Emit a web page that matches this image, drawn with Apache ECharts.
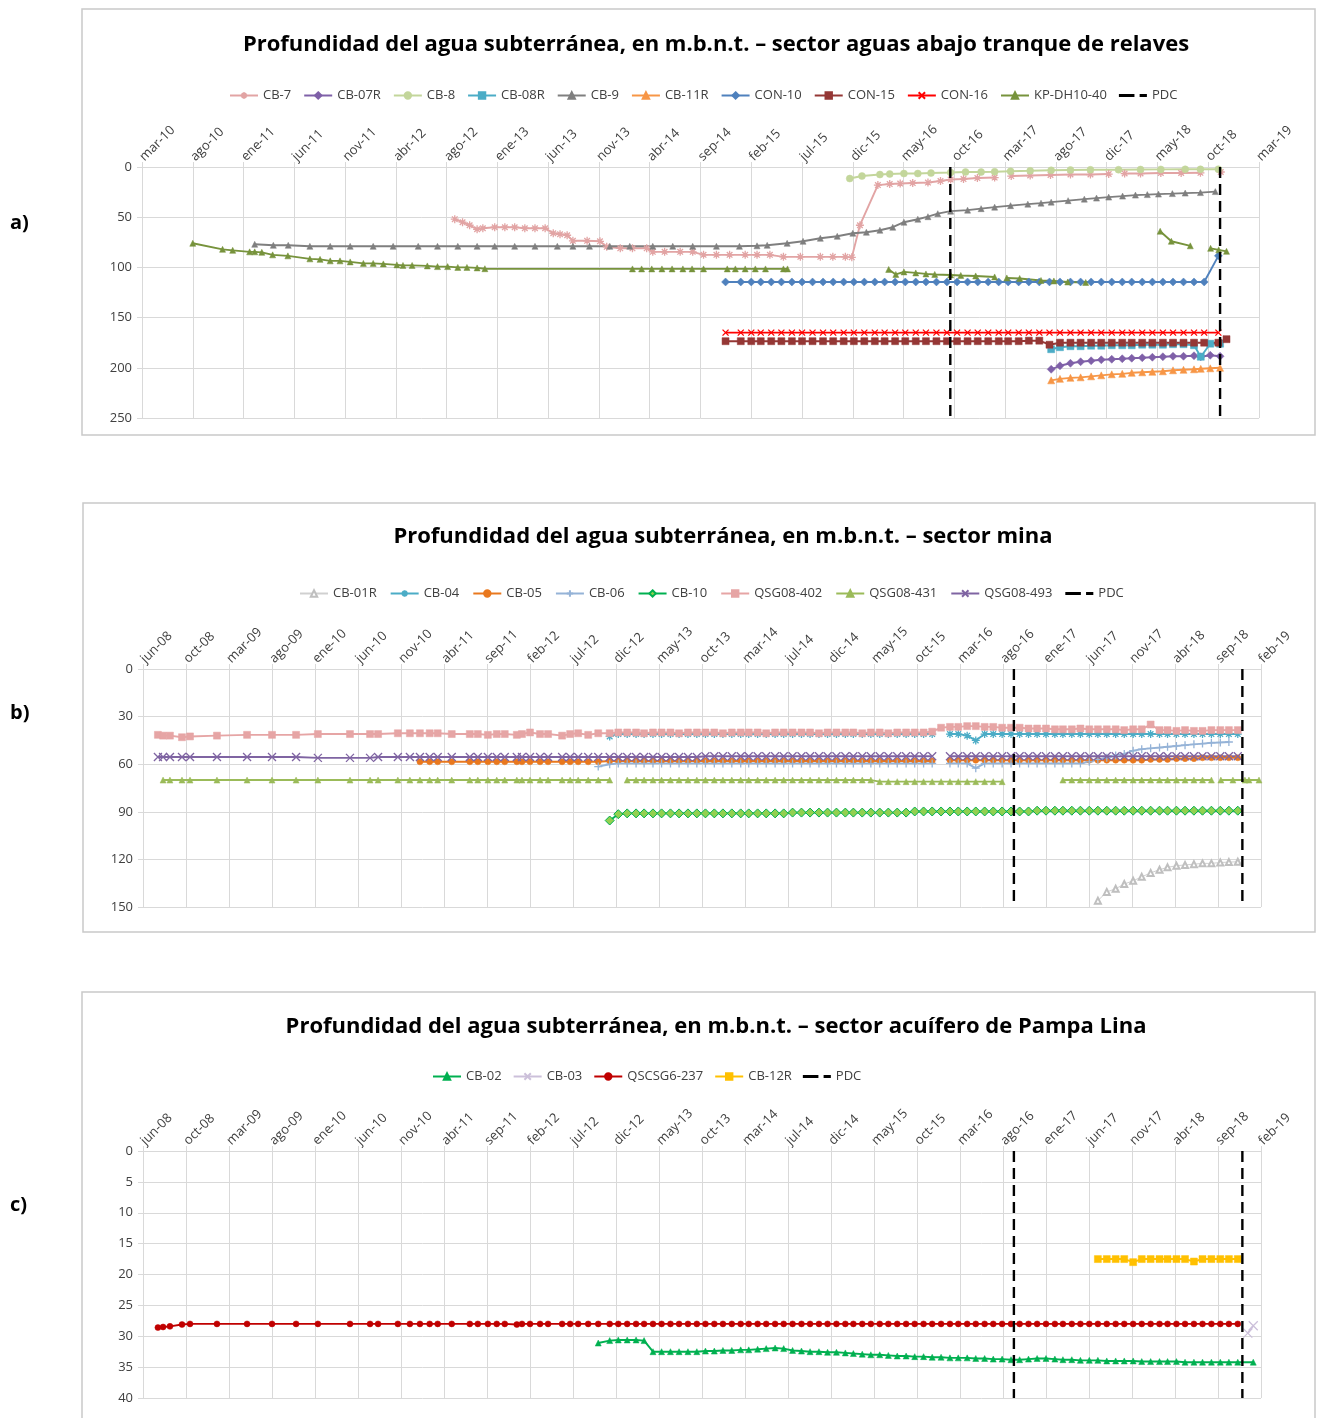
<!DOCTYPE html>
<html>
<head>
<meta charset="utf-8">
<script src="https://cdn.jsdelivr.net/npm/echarts@6/dist/echarts.min.js"></script>
<style>
  html, body { margin: 0; padding: 0; background: #fff; }
  #chart { width: 1319px; height: 1418px; }
</style>
</head>
<body>
<div id="chart"></div>
<script>
// ---------- data ----------
// first tick of each date axis; ticks every 150 days
var originA = Date.UTC(2010, 2, 13, 12);
var originB = Date.UTC(2008, 5, 1, 12);
var meses = ['ene', 'feb', 'mar', 'abr', 'may', 'jun', 'jul', 'ago', 'sep', 'oct', 'nov', 'dic'];
var pdcDates = ['2016-09-25', '2018-12-01'];

// panel a) sector aguas abajo tranque de relaves
var cb7 = [['2012-09-22',52],['2012-10-15',55],['2012-11-05',58],['2012-11-27',62],['2012-12-14',61],['2013-01-18',60],['2013-02-17',60],['2013-03-18',60],['2013-04-17',61],['2013-05-17',61],['2013-06-16',61],['2013-07-10',66],['2013-07-30',67],['2013-08-20',68],['2013-09-06',73.5],['2013-10-18',73.5],['2013-11-25',74],['2013-12-15',79.5],['2014-01-24',81],['2014-03-01',81],['2014-04-12',81],['2014-04-30',84.5],['2014-06-04',84.5],['2014-07-20',84.5],['2014-08-26',84.5],['2014-09-27',87.5],['2014-11-04',87.5],['2014-12-13',87.5],['2015-01-28',87.5],['2015-03-04',87.5],['2015-04-11',87.5],['2015-05-21',89.5],['2015-07-10',89.5],['2015-09-07',89.5],['2015-10-14',89.5],['2015-11-20',89.5],['2015-12-09',90],['2016-01-02',58],['2016-02-24',18],['2016-03-30',17],['2016-04-30',16.5],['2016-06-06',16],['2016-07-21',15.5],['2016-08-27',14],['2016-09-26',12.5],['2016-11-03',12],['2016-12-14',11],['2017-02-03',10.5],['2017-02-20',null],['2017-03-24',9],['2017-05-19',8.5],['2017-07-18',8],['2017-09-15',7.5],['2017-11-13',7.5],['2018-01-06',7],['2018-01-20',null],['2018-02-22',6.5],['2018-04-10',6.5],['2018-06-09',6],['2018-08-08',6],['2018-10-04',5.8],['2018-11-01',null],['2018-12-03',5]];
var cb8 = [['2015-12-03',11.5],['2016-01-08',9],['2016-03-01',7.5],['2016-03-30',7],['2016-05-11',6.5],['2016-06-21',6.5],['2016-07-30',6],['2016-09-26',5.5],['2016-11-09',5],['2016-12-25',5],['2017-02-03',4.7],['2017-03-22',4.2],['2017-05-19',3.8],['2017-07-20',3.3],['2017-09-15',3],['2017-11-13',2.8],['2018-02-04',2.7],['2018-04-10',2.5],['2018-06-09',2.4],['2018-08-20',2.3],['2018-10-04',2.3],['2018-11-26',2.2]];
var cb9 = [['2011-02-09',77],['2011-04-05',78],['2011-05-19',78],['2011-07-22',79],['2011-09-20',79],['2011-11-18',79],['2012-01-25',79],['2012-03-24',79],['2012-06-06',79],['2012-08-02',79],['2012-10-01',79],['2012-11-27',79],['2013-01-18',79],['2013-03-18',79],['2013-05-17',79],['2013-07-22',79],['2013-09-06',79],['2013-10-25',79],['2013-12-24',79],['2014-02-21',79],['2014-04-30',79],['2014-06-28',79],['2014-08-26',79],['2014-11-04',79],['2015-01-11',79],['2015-03-04',78.5],['2015-04-03',78],['2015-06-01',76],['2015-07-18',74],['2015-09-07',71],['2015-10-27',69],['2015-12-12',66],['2016-01-21',65],['2016-03-01',63],['2016-04-08',60],['2016-05-11',55],['2016-06-21',52],['2016-07-21',49.5],['2016-08-19',46.5],['2016-09-26',44],['2016-11-15',43],['2016-12-25',41.5],['2017-02-03',40],['2017-03-22',38.5],['2017-05-12',37],['2017-06-20',36],['2017-07-20',35],['2017-09-08',33.5],['2017-10-26',32],['2017-12-01',31],['2018-01-06',30],['2018-02-16',29],['2018-03-26',28],['2018-04-30',27.5],['2018-06-02',27],['2018-07-13',26.5],['2018-08-20',26],['2018-10-04',25.5],['2018-11-17',24.5]];
var kpdh = [['2010-08-10',76],['2010-11-06',82],['2010-12-06',83],['2011-01-25',84.5],['2011-02-09',84.5],['2011-03-02',85],['2011-04-03',87.5],['2011-05-18',88.5],['2011-07-22',91.5],['2011-08-21',92],['2011-09-20',93.5],['2011-10-19',93.5],['2011-11-18',94.5],['2011-12-27',96],['2012-01-25',96],['2012-02-24',96.5],['2012-04-04',97.5],['2012-04-22',98],['2012-05-19',98],['2012-07-03',98.5],['2012-08-02',99.2],['2012-09-01',99.2],['2012-10-01',100],['2012-10-28',100],['2012-11-27',100.5],['2012-12-20',101.3],['2014-03-01',101.5],['2014-03-28',101.5],['2014-04-27',101.5],['2014-05-27',101.5],['2014-06-26',101.5],['2014-07-28',101.5],['2014-08-24',101.5],['2014-09-27',101.5],['2014-12-06',101.5],['2014-12-30',101.5],['2015-01-28',101.5],['2015-02-27',101.5],['2015-03-29',101.5],['2015-05-21',101.5],['2015-06-02',101.5],['2015-08-01',null],['2016-03-27',102],['2016-04-17',107],['2016-05-11',104.5],['2016-06-15',105.5],['2016-07-15',106.5],['2016-08-10',107],['2016-09-26',107.5],['2016-10-26',108],['2016-12-09',108.5],['2017-02-03',109.5],['2017-02-20',null],['2017-03-11',110.5],['2017-04-18',111],['2017-06-20',113],['2017-07-28',113.5],['2017-09-07',114.5],['2017-10-30',115],['2018-01-01',null],['2018-06-07',64],['2018-07-10',74],['2018-09-04',78.5],['2018-10-01',null],['2018-11-03',81],['2018-11-27',82.5],['2018-12-20',84]];

var conDates = ['2014-12-01','2015-01','2015-02','2015-03','2015-04','2015-05','2015-06','2015-07','2015-08','2015-09','2015-10','2015-11','2015-12','2016-01','2016-02','2016-03','2016-04','2016-05','2016-06','2016-07','2016-08','2016-09','2016-10','2016-11','2016-12','2017-01','2017-02','2017-03','2017-04','2017-05','2017-06','2017-07','2017-08','2017-09','2017-10','2017-11','2017-12','2018-01','2018-02','2018-03','2018-04','2018-05','2018-06','2018-07','2018-08','2018-09','2018-10','2018-11-26','2018-12-20'];
var con10 = [114.5,114.5,114.5,114.5,114.5,114.5,114.5,114.5,114.5,114.5,114.5,114.5,114.5,114.5,114.5,114.5,114.5,114.5,114.5,114.5,114.5,114.5,114.5,114.5,114.5,114.5,114.5,114.5,114.5,114.5,114.5,114.5,114.5,114.5,114.5,114.5,114.5,114.5,114.5,114.5,114.5,114.5,114.5,114.5,114.5,114.5,114.5,88.5,null];
var con15 = [173.5,173.5,173.5,173.5,173.5,173.5,173.5,173.5,173.5,173.5,173.5,173.5,173.5,173.5,173.5,173.5,173.5,173.5,173.5,173.5,173.5,173.5,173.5,173.5,173.5,173.5,173.5,173.5,173.5,173,173,177,175,175,175,175,175,175,175,175,175,175,175,175,175,175,175,175,171.5];
var con16 = [165,165,165,165,165,165,165,165,165,165,165,165,165,165,165,165,165,165,165,165,165,165,165,165,165,165,165,165,165,165,165,165,165,165,165,165,165,165,165,165,165,165,165,165,165,165,165,165,null];

var newDates = ['2017-07-20','2017-08','2017-09','2017-10','2017-11','2017-12','2018-01','2018-02','2018-03','2018-04','2018-05','2018-06','2018-07','2018-08','2018-09','2018-10-05','2018-11-02','2018-12-01'];
var cb07r = [201.5,198,195.5,194,193,192,191.5,191,190.5,190,189.5,189,188.5,188.5,188,189,187.5,188.5];
var cb08r = [181.5,179.5,178.5,178.5,178,178,177.5,177.5,177.5,177,177,177,176.5,176.5,177.5,189,176,176];
var cb11r = [212.5,211,210,209.5,208.5,207.5,206.5,206,205,204.5,204,203.5,202.5,202,201.5,201,200.5,200];

// panels b) and c): one field campaign calendar
var campDates = ['2008-07-23','2008-08-10','2008-09-03','2008-10-15','2008-11-12','2009-02-14','2009-05-30','2009-08-25','2009-11-17','2010-02-01','2010-05-24','2010-08-02','2010-08-30','2010-11-07','2010-12-19','2011-01-23','2011-02-26','2011-03-26','2011-05-14','2011-07-16','2011-08-13','2011-09-17','2011-10-18','2011-11-15','2011-12-27','2012-01-14','2012-02-11','2012-03-17','2012-04-14','2012-06-02','2012-06-30','2012-07-28','2012-09-01','2012-10-06',
  '2012-11','2012-12','2013-01','2013-02','2013-03','2013-04','2013-05','2013-06','2013-07','2013-08','2013-09','2013-10','2013-11','2013-12',
  '2014-01','2014-02','2014-03','2014-04','2014-05','2014-06','2014-07','2014-08','2014-09','2014-10','2014-11','2014-12',
  '2015-01','2015-02','2015-03','2015-04','2015-05','2015-06','2015-07','2015-08','2015-09','2015-10','2015-11','2015-12',
  '2016-01','2016-02','2016-03','2016-04','2016-05','2016-06','2016-07','2016-08','2016-09','2016-10','2016-11','2016-12',
  '2017-01','2017-02','2017-03','2017-04','2017-05','2017-06','2017-07','2017-08','2017-09','2017-10','2017-11','2017-12',
  '2018-01','2018-02','2018-03','2018-04','2018-05','2018-06','2018-07','2018-08','2018-09','2018-10','2018-11'];
var _ = null;
// each: 34 early campaign values, then monthly 2012-11 .. 2018-11
var qsg402 = [41.5,42,42,43,42.5,42,41.5,41.5,41.5,41,41,41,41,40.5,40.5,40.5,40.5,40.5,41,41,41,41.5,41,41,41.5,41,40,41,41,42,41,40.5,41.5,40.5,
  40.5,40,40,40,40.5,40,40,40,40.5,40,40,40,40,40.5,40,40,40,40,40.5,40,40,40,40,40,40.5,40,40,40,40,40.5,40,40,40.5,40,40,40,40,39.5,
  37,36.5,36.5,36,36,36.5,36.5,37,37,37,37.5,37.5,37.5,38,38,38,37.5,38,38,38,38,38.5,38,38,35,38.5,38.5,39,38.5,39,39,38.5,38.5,38.5,38.5];
var qsg493 = [55.5,55.5,55.5,55.5,55.5,55.5,55.5,55.5,55.5,56,56,56,55.5,55.5,55.5,55.5,55.5,55.5,55.5,55.5,55.5,55.5,55.5,55.5,55.5,55.5,55.5,55.5,55.5,55.5,55.5,55.5,55.5,55.5,
  55.5,55.5,55.5,55.5,55.5,55.5,55.5,55.5,55.5,55.5,55.5,55,55,55,55,55,55,55,55,55,55,55,55,55,55,55,55,55,55,55,55,55,55,55,55,55,55,55,
  _,55,55,55,55,55,55,55,55,55,55,55,55,55,55,55,55,55,55,55,55,55,55,55,55,55,55,55,55,55,55,55,55,55,55];
var qsg431 = [_,70,70,70,70,70,70,70,70,70,70,70,70,70,70,70,70,70,70,70,70,70,70,70,70,70,70,70,70,70,70,70,70,70,
  70,_,70,70,70,70,70,70,70,70,70,70,70,70,70,70,70,70,70,70,70,70,70,70,70,70,70,70,70,70,70,71,71,71,71,71,71,71,
  71,71,71,71,71,71,71,71,_,_,_,_,_,_,70,70,70,70,70,70,70,70,70,70,70,70,70,70,70,70,70,70,_,_,_];
var qsg431Tail = [['2018-09-17',70],['2018-10-29',70],['2018-12-10',70],['2018-12-24',70],['2019-01-28',70]];
var cb05 = [_,_,_,_,_,_,_,_,_,_,_,_,_,_,_,58.5,58.5,58.5,58.5,58.5,58.5,58.5,58.5,58.5,58.5,58.5,58.5,58.5,58.5,58.5,58.5,58.5,58.5,58.5,
  58,58,58,58,58,58,58,58,58,58,58,58,58,58,58,58,58,58,58,58,58,58,58,58,58,58,58,58,58,58,58,58,58,58,58,58,58,58,
  _,57.5,57.5,57.5,57.5,57.5,57.5,57.5,57.5,57.5,57.5,57.5,57.5,57.5,57.5,57.5,57.5,57.5,57.5,57.5,57.5,57.5,57.5,57.5,57,57,57,56.5,56.5,56.5,56,56,56,56,56];
var cb06 = [_,_,_,_,_,_,_,_,_,_,_,_,_,_,_,_,_,_,_,_,_,_,_,_,_,_,_,_,_,_,_,_,_,61.5,
  60,59.5,59.5,59.5,59.5,59.5,59.5,59.5,59.5,59.5,59.5,59.5,59.5,59.5,59.5,59.5,59.5,59.5,59.5,59.5,59.5,59.5,59.5,59.5,59.5,59.5,59.5,59.5,59.5,59.5,59.5,59.5,59.5,59.5,59.5,59.5,59.5,59.5,
  _,59.5,59.5,59.5,62.5,59.5,59.5,59.5,59.5,59.5,59.5,59.5,59.5,59.5,59.5,59.5,59.5,58.5,57,56,54.5,53.5,51.5,50.5,50,49.5,49,48.5,48,47.5,47,46.5,46.3,46];
var cb04 = [_,_,_,_,_,_,_,_,_,_,_,_,_,_,_,_,_,_,_,_,_,_,_,_,_,_,_,_,_,_,_,_,_,_,
  42.5,41,41,41,41,41,41,41,41,41,41,41,41,41,41,41,41,41,41,41,41,41,41,41,41,41,41,41,41,41,41,41,41,41,41,41,41,41,
  _,41,41,42,45,41,41,41,41,41,41,41,41,41,41,41,41,41,41,41,41,41,41,41,41,41,41,41,41,41,41,41,41,41,41];
var cb10 = [_,_,_,_,_,_,_,_,_,_,_,_,_,_,_,_,_,_,_,_,_,_,_,_,_,_,_,_,_,_,_,_,_,_,
  95.5,91.5,91,91,91,91,91,91,91,91,91,91,91,91,91,91,91,91,91,91,91,90.5,90.5,90.5,90.5,90.5,90.5,90.5,90.5,90.5,90.5,90.5,90.5,90.5,90.5,89.8,89.8,89.8,
  89.8,89.8,89.8,89.8,89.8,89.8,89.8,89.8,89.8,89.8,89.8,89.3,89.3,89.3,89.3,89.3,89.3,89.3,89.3,89.3,89.3,89.3,89.3,89.3,89.3,89.3,89.3,89.3,89.3,89.3,89.3,89.3,89.3,89.3,89.3];
var cb01r = [_,_,_,_,_,_,_,_,_,_,_,_,_,_,_,_,_,_,_,_,_,_,_,_,_,_,_,_,_,_,_,_,_,_,
  _,_,_,_,_,_,_,_,_,_,_,_,_,_,_,_,_,_,_,_,_,_,_,_,_,_,_,_,_,_,_,_,_,_,_,_,_,_,
  _,_,_,_,_,_,_,_,_,_,_,_,_,_,_,_,_,_,146,140.5,138.5,135.5,133.5,131,128.5,126.5,125,124,123.5,123,122.5,122.5,122,121.7,121.5];

var qscsg = [28.6,28.5,28.4,28.1,28,28,28,28,28,28,28,28,28,28,28,28,28,28,28,28,28,28,28,28,28.1,28,28,28,28,28,28,28,28,28,
  28,28,28,28,28,28,28,28,28,28,28,28,28,28,28,28,28,28,28,28,28,28,28,28,28,28,28,28,28,28,28,28,28,28,28,28,28,28,
  28,28,28,28,28,28,28,28,28,28,28,28,28,28,28,28,28,28,28,28,28,28,28,28,28,28,28,28,28,28,28,28,28,28,28];
var cb02 = [_,_,_,_,_,_,_,_,_,_,_,_,_,_,_,_,_,_,_,_,_,_,_,_,_,_,_,_,_,_,_,_,_,31.1,
  30.7,30.6,30.6,30.6,30.7,32.5,32.5,32.5,32.5,32.5,32.5,32.4,32.4,32.3,32.3,32.2,32.2,32.1,32.0,31.9,32.0,32.3,32.4,32.5,32.5,32.6,32.6,32.7,32.8,32.9,33.0,33.0,33.1,33.2,
  33.2,33.3,33.3,33.4,33.4,33.5,33.5,33.5,33.6,33.6,33.7,33.7,33.8,33.8,33.7,33.6,33.6,33.7,33.8,33.8,33.9,33.9,33.9,34.0,34.0,34.0,34.0,34.1,34.1,34.1,34.1,34.1,34.2,34.2,34.2,34.2,34.2,34.2,34.2];
var cb02Tail = [['2019-01-08',34.2]];
var cb12r = [_,_,_,_,_,_,_,_,_,_,_,_,_,_,_,_,_,_,_,_,_,_,_,_,_,_,_,_,_,_,_,_,_,_,
  _,_,_,_,_,_,_,_,_,_,_,_,_,_,_,_,_,_,_,_,_,_,_,_,_,_,_,_,_,_,_,_,_,_,_,_,_,_,
  _,_,_,_,_,_,_,_,_,_,_,_,_,_,_,_,_,_,17.5,17.5,17.5,17.5,18,17.5,17.5,17.5,17.5,17.5,17.5,17.9,17.5,17.5,17.5,17.5,17.5];
var cb03 = [['2018-12-20',29.5],['2019-01-08',28.3]];

// ---------- helpers ----------
function toX(s, origin) {
  var p = s.split('-');
  var d = p[2] ? +p[2] : 15;
  return (Date.UTC(+p[0], +p[1] - 1, d, 12) - origin) / 86400000;
}
function pairs(list, origin) {
  return list.map(function (r) { return [toX(r[0], origin), r[1] == null ? '-' : r[1]]; });
}
function zipped(dates, vals, origin) {
  return dates.map(function (d, i) { return [toX(d, origin), vals[i] == null ? '-' : vals[i]]; });
}
function pdcData(origin, ymax) {
  return [[toX(pdcDates[0], origin), 0], [toX(pdcDates[0], origin), ymax], [toX(pdcDates[0], origin), '-'],
          [toX(pdcDates[1], origin), 0], [toX(pdcDates[1], origin), ymax]];
}
function fmt(origin) {
  return function (v) {
    var d = new Date(origin + v * 86400000);
    return meses[d.getUTCMonth()] + '-' + String(d.getUTCFullYear()).slice(2);
  };
}

var STAR = 'path://M5,0L5,10M0,5L10,5M1.5,1.5L8.5,8.5M8.5,1.5L1.5,8.5';
var CROSS = 'path://M0,0L10,10M10,0L0,10';
var PLUS = 'path://M5,0L5,10M0,5L10,5';
var DASHICON = 'path://M0,0h15v3h-15zM20,0h7v3h-7z';
var FONT = 'Open Sans';

function ser(name, idx, data, color, symbol, size, extra) {
  var s = {
    name: name, type: 'line', xAxisIndex: idx, yAxisIndex: idx, data: data,
    symbol: symbol, symbolSize: size, showSymbol: true, connectNulls: false,
    lineStyle: { color: color, width: 1.9 },
    itemStyle: { color: color, borderColor: color, borderWidth: symbol.indexOf('path') === 0 ? 1.3 : 0.5 },
    emphasis: { disabled: true }, animation: false, z: 3
  };
  if (extra) Object.assign(s, extra);
  return s;
}
function pdc(idx, origin, ymax) {
  return {
    name: 'PDC', type: 'line', xAxisIndex: idx, yAxisIndex: idx, data: pdcData(origin, ymax),
    symbol: 'none', connectNulls: false, z: 4, animation: false,
    lineStyle: { color: '#000', width: 2.4, type: [11, 6] }, itemStyle: { color: '#000' }
  };
}

var grids = [
  { left: 142, top: 167, width: 1117, height: 251 },
  { left: 143, top: 669, width: 1118, height: 238 },
  { left: 143, top: 1151, width: 1118, height: 247 }
];
grids.forEach(function (g) { g.containLabel = false; g.outerBoundsMode = 'none'; });

function xAx(idx, origin, n) {
  return {
    type: 'value', gridIndex: idx, position: 'top', min: 0, max: 150 * n, interval: 150,
    axisLine: { show: true, lineStyle: { color: '#d9d9d9' } },
    axisTick: { show: true, length: 5, lineStyle: { color: '#d9d9d9' } },
    splitLine: { show: true, lineStyle: { color: '#d9d9d9', width: 1 } },
    axisLabel: { rotate: 45, margin: 8, fontSize: 13, color: '#404040', fontFamily: FONT, formatter: fmt(origin), hideOverlap: false }
  };
}
function yAx(idx, max, step) {
  return {
    type: 'value', gridIndex: idx, inverse: true, min: 0, max: max, interval: step,
    axisLine: { show: true, lineStyle: { color: '#d9d9d9' } },
    axisTick: { show: true, length: 5, lineStyle: { color: '#d9d9d9' } },
    splitLine: { show: true, lineStyle: { color: '#d9d9d9', width: 1 } },
    axisLabel: { margin: 10, fontSize: 13, color: '#404040', fontFamily: FONT }
  };
}

var titleStyle = { fontSize: 22, fontWeight: 'bold', color: '#000', fontFamily: FONT };
var legendText = { fontSize: 13, color: '#404040', fontFamily: FONT };
var pdcLegend = { name: 'PDC', icon: DASHICON };

var option = {
  backgroundColor: '#fff',
  animation: false,
  title: [
    { text: 'Profundidad del agua subterránea, en m.b.n.t. – sector aguas abajo tranque de relaves', left: 711, top: 29, textAlign: 'center', textStyle: titleStyle },
    { text: 'Profundidad del agua subterránea, en m.b.n.t. – sector mina', left: 718, top: 521, textAlign: 'center', textStyle: titleStyle },
    { text: 'Profundidad del agua subterránea, en m.b.n.t. – sector acuífero de Pampa Lina', left: 711, top: 1011, textAlign: 'center', textStyle: titleStyle }
  ],
  legend: [
    { left: 224, top: 84, itemWidth: 28, itemHeight: 8, itemGap: 12, textStyle: legendText,
      data: ['CB-7', 'CB-07R', 'CB-8', 'CB-08R', 'CB-9', 'CB-11R', 'CON-10', 'CON-15', 'CON-16', 'KP-DH10-40', pdcLegend] },
    { left: 294, top: 582, itemWidth: 28, itemHeight: 8, itemGap: 13, textStyle: legendText,
      data: ['CB-01R', 'CB-04', 'CB-05', 'CB-06', 'CB-10', 'QSG08-402', 'QSG08-431', 'QSG08-493', pdcLegend] },
    { left: 427, top: 1065, itemWidth: 28, itemHeight: 8, itemGap: 11, textStyle: legendText,
      data: ['CB-02', 'CB-03', 'QSCSG6-237', 'CB-12R', pdcLegend] }
  ],
  grid: grids,
  xAxis: [xAx(0, originA, 22), xAx(1, originB, 26), xAx(2, originB, 26)],
  yAxis: [yAx(0, 250, 50), yAx(1, 150, 30), yAx(2, 40, 5)],
  graphic: [
    { type: 'rect', shape: { x: 82, y: 9, width: 1233, height: 426 }, style: { fill: 'none', stroke: '#c9c9c9', lineWidth: 1.5 }, silent: true },
    { type: 'rect', shape: { x: 83, y: 503, width: 1232, height: 429 }, style: { fill: 'none', stroke: '#c9c9c9', lineWidth: 1.5 }, silent: true },
    { type: 'rect', shape: { x: 82, y: 992, width: 1233, height: 440 }, style: { fill: 'none', stroke: '#c9c9c9', lineWidth: 1.5 }, silent: true },
    { type: 'text', left: 10, top: 213, style: { text: 'a)', font: 'bold 20px "Open Sans"', fill: '#000' } },
    { type: 'text', left: 10, top: 703, style: { text: 'b)', font: 'bold 20px "Open Sans"', fill: '#000' } },
    { type: 'text', left: 10, top: 1195, style: { text: 'c)', font: 'bold 20px "Open Sans"', fill: '#000' } }
  ],
  series: [
    // a)
    ser('CB-7', 0, pairs(cb7, originA), '#e2a4a4', STAR, 8),
    ser('CB-07R', 0, zipped(newDates, cb07r, originA), '#7f60a8', 'diamond', 8),
    ser('CB-8', 0, pairs(cb8, originA), '#c3d69b', 'circle', 7),
    ser('CB-08R', 0, zipped(newDates, cb08r, originA), '#4bacc6', 'rect', 7),
    ser('CB-9', 0, pairs(cb9, originA), '#7f7f7f', 'triangle', 6),
    ser('CB-11R', 0, zipped(newDates, cb11r, originA), '#f79646', 'triangle', 7),
    ser('CON-10', 0, zipped(conDates, con10, originA), '#4f81bd', 'diamond', 8),
    ser('CON-15', 0, zipped(conDates, con15, originA), '#953735', 'rect', 7),
    ser('CON-16', 0, zipped(conDates, con16, originA), '#ff0000', CROSS, 6),
    ser('KP-DH10-40', 0, pairs(kpdh, originA), '#77933c', 'triangle', 6),
    pdc(0, originA, 250),
    // b)
    ser('CB-01R', 1, zipped(campDates, cb01r, originB), '#bfbfbf', 'emptyTriangle', 6, { lineStyle: { color: '#d0d0d0', width: 1 } }),
    ser('CB-04', 1, zipped(campDates, cb04, originB), '#4bacc6', STAR, 8),
    ser('CB-05', 1, zipped(campDates, cb05, originB), '#e9781e', 'circle', 6),
    ser('CB-06', 1, zipped(campDates, cb06, originB), '#95b3d7', PLUS, 8),
    ser('CB-10', 1, zipped(campDates, cb10, originB), '#00b050', 'diamond', 9, { itemStyle: { color: '#92d050', borderColor: '#00b050', borderWidth: 1 } }),
    ser('QSG08-402', 1, zipped(campDates, qsg402, originB), '#e6a5a5', 'rect', 7),
    ser('QSG08-431', 1, zipped(campDates, qsg431, originB).concat([[toX('2018-09-01', originB), '-']], pairs(qsg431Tail, originB)), '#9bbb59', 'triangle', 6),
    ser('QSG08-493', 1, zipped(campDates, qsg493, originB), '#7f64a2', CROSS, 8),
    pdc(1, originB, 150),
    // c)
    ser('CB-02', 2, zipped(campDates, cb02, originB).concat(pairs(cb02Tail, originB)), '#00b050', 'triangle', 6),
    ser('CB-03', 2, pairs(cb03, originB), '#ccc0da', CROSS, 9),
    ser('QSCSG6-237', 2, zipped(campDates, qscsg, originB), '#c00000', 'circle', 6),
    ser('CB-12R', 2, zipped(campDates, cb12r, originB), '#ffc000', 'rect', 7),
    pdc(2, originB, 40)
  ]
};

var chart = echarts.init(document.getElementById('chart'), null, { renderer: 'canvas' });
chart.setOption(option);
</script>
</body>
</html>
